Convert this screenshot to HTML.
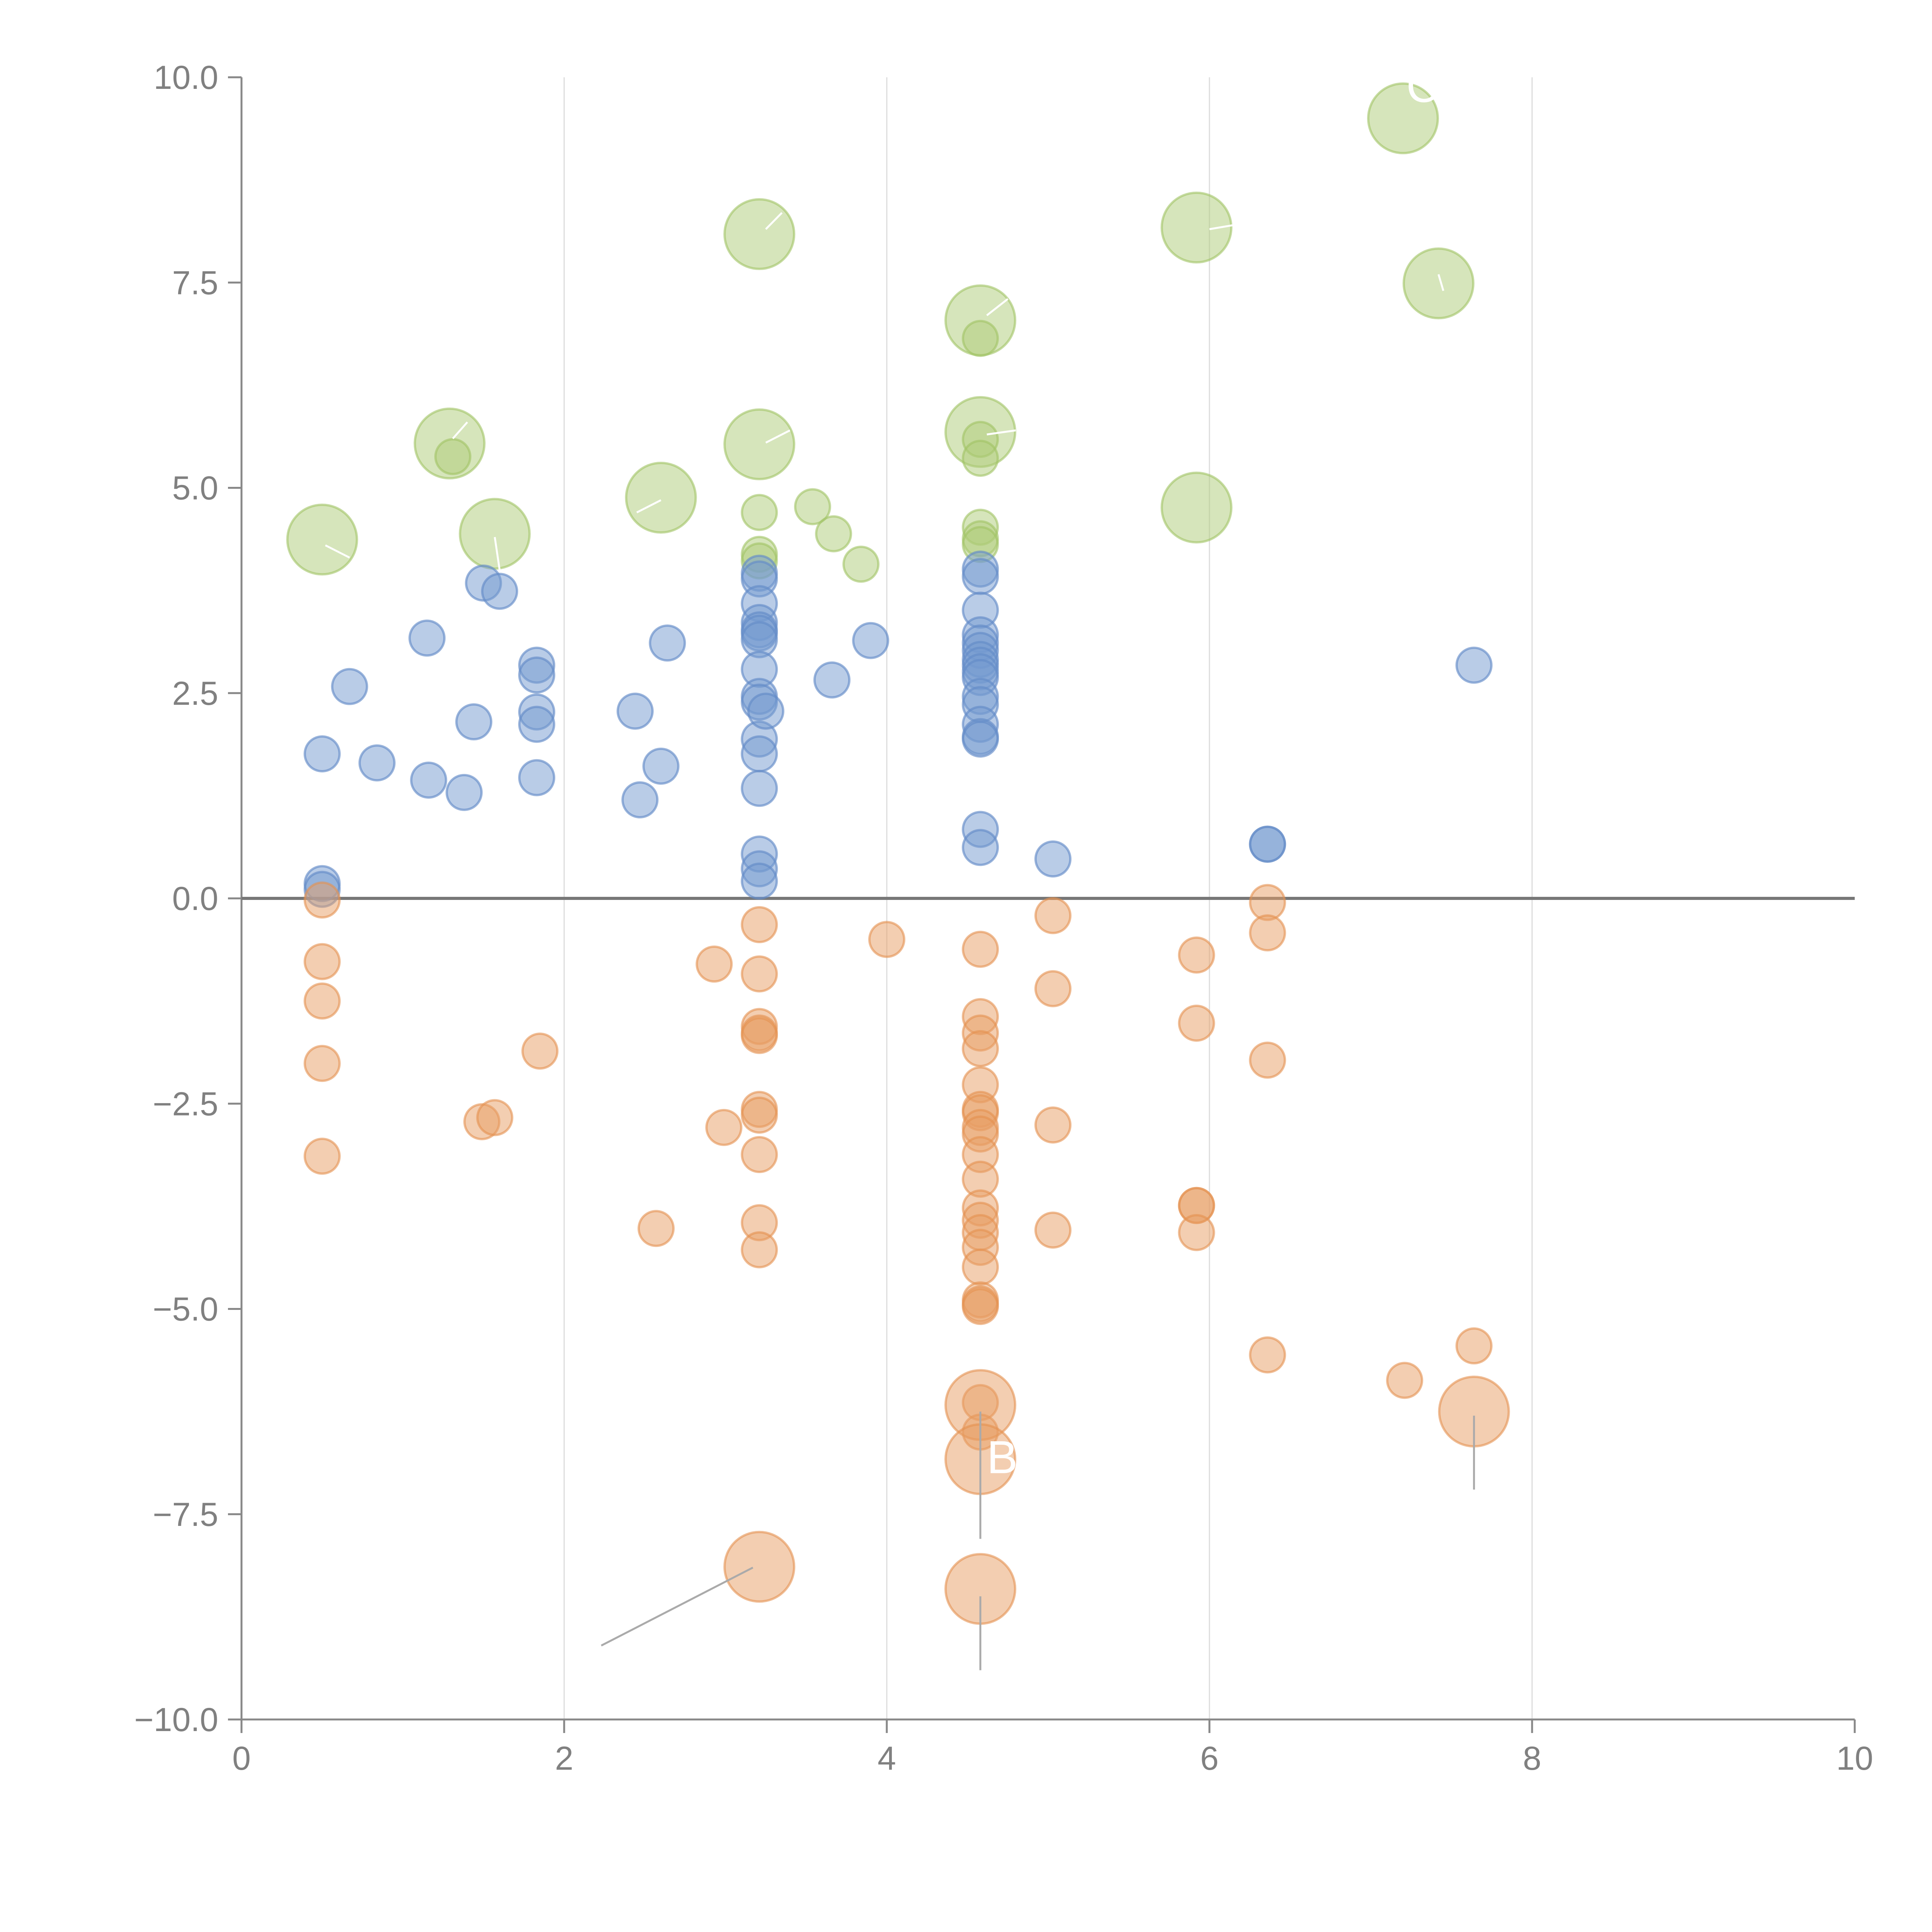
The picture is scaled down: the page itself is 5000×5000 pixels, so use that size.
<!DOCTYPE html>
<html><head><meta charset="utf-8">
<style>html,body{margin:0;padding:0;background:#fff}svg{display:block}</style>
</head><body>
<svg id="chart" width="5000" height="5000" viewBox="0 0 5000 5000" xmlns="http://www.w3.org/2000/svg" font-family="Liberation Sans, sans-serif">
<g id="grid"></g>
<g id="axes"></g>
<g id="marks"></g>
<g id="annot"></g>
</svg>
<script>
const xTicks=[0,2,4,6,8,10];
const yTicks=[-10,-7.5,-5,-2.5,0,2.5,5,7.5,10];
const yTickLabels=["−10.0","−7.5","−5.0","−2.5","0.0","2.5","5.0","7.5","10.0"];
const blueX=[0.5,0.5,0.5,0.67,0.84,1.15,1.16,1.38,1.44,1.5,1.6,1.83,1.83,1.83,1.83,1.83,2.44,2.47,2.6,2.64,
3.21,3.21,3.21,3.21,3.21,3.21,3.21,3.21,3.21,3.21,3.21,3.21,3.21,3.21,3.21,3.21,3.25,3.66,3.9,
4.58,4.58,4.58,4.58,4.58,4.58,4.58,4.58,4.58,4.58,4.58,4.58,4.58,4.58,4.58,4.58,4.58,5.03,6.36,6.36,7.64];
const blueY=[1.76,0.18,0.11,2.58,1.65,3.17,1.44,1.29,2.15,3.84,3.74,2.84,2.72,2.27,2.12,1.47,2.28,1.2,1.61,3.11,
3.96,3.89,3.59,3.36,3.27,3.23,3.15,2.79,2.46,2.39,1.94,1.76,1.34,0.54,0.36,0.21,2.28,2.66,3.14,
4.01,3.92,3.51,3.21,3.11,3.02,2.91,2.84,2.76,2.69,2.46,2.36,2.12,1.97,1.94,0.84,0.62,0.48,0.66,0.66,2.84];
const orangeX=[0.5,0.5,0.5,0.5,0.5,1.49,1.57,1.85,2.57,2.93,2.99,
3.21,3.21,3.21,3.21,3.21,3.21,3.21,3.21,3.21,3.21,4.0,
4.58,4.58,4.58,4.58,4.58,4.58,4.58,4.58,4.58,4.58,4.58,4.58,4.58,4.58,4.58,4.58,4.58,4.58,4.58,4.58,4.58,
5.03,5.03,5.03,5.03,5.92,5.92,5.92,5.92,5.92,6.36,6.36,6.36,6.36,7.21,7.64,
7.64,4.58,4.58,3.21,4.58];
const orangeY=[-0.02,-0.77,-1.25,-2.01,-3.14,-2.72,-2.67,-1.86,-4.02,-0.8,-2.79,
-0.32,-0.92,-1.56,-1.64,-1.67,-2.57,-2.64,-3.12,-3.95,-4.28,-0.5,
-0.62,-1.44,-1.64,-1.83,-2.27,-2.57,-2.61,-2.79,-2.87,-3.12,-3.42,-3.77,-3.92,-4.07,-4.25,-4.49,-4.89,-4.94,-4.97,-6.14,-6.5,
-0.21,-1.1,-2.76,-4.04,-0.69,-1.52,-3.74,-3.74,-4.07,-0.05,-0.42,-1.97,-5.56,-5.87,-5.45,
-6.25,-6.17,-6.83,-8.14,-8.41];
const orangeSize=[1,1,1,1,1,1,1,1,1,1,1,1,1,1,1,1,1,1,1,1,1,1,1,1,1,1,1,1,1,1,1,1,1,1,1,1,1,1,1,1,1,1,1,1,1,1,1,1,1,1,1,1,1,1,1,1,1,1,4,4,4,4,4];
const greenX=[0.5,1.29,1.57,2.6,3.21,3.21,4.58,4.58,5.92,5.92,7.2,7.42,
1.31,3.21,3.21,3.21,3.54,3.67,3.84,4.58,4.58,4.58,4.58,4.58,4.58];
const greenY=[4.37,5.54,4.44,4.88,8.09,5.53,7.04,5.68,8.17,4.76,9.5,7.49,
5.38,4.7,4.19,4.11,4.77,4.44,4.07,6.82,5.59,5.36,4.52,4.38,4.31];
const greenSize=[4,4,4,4,4,4,4,4,4,4,4,4,1,1,1,1,1,1,1,1,1,1,1,1,1];

const X0=625,X1=4800,Y0=4450,Y1=200;
const xs=v=>X0+(v-0)/(10-0)*(X1-X0);
const ys=v=>Y0-(v+10)/20*(Y0-Y1);
const rs=s=>45*Math.sqrt(s);
const NS="http://www.w3.org/2000/svg";
function mk(tag,attrs,parent){const e=document.createElementNS(NS,tag);for(const k in attrs)e.setAttribute(k,attrs[k]);parent.appendChild(e);return e;}
const grid=document.getElementById('grid'),axes=document.getElementById('axes'),marks=document.getElementById('marks'),annot=document.getElementById('annot');

xTicks.forEach(t=>{
  if(t>0&&t<10){const g=mk('line',{x1:xs(t),x2:xs(t),y1:Y1,y2:Y0,stroke:'#dcdcdc','stroke-width':3},grid);
  
  }
  const tk=mk('line',{x1:xs(t),x2:xs(t),y1:Y0,y2:Y0+35,stroke:'#888','stroke-width':5},axes);
  
  
  const tx=mk('text',{x:xs(t),y:Y0+130,'font-size':86,fill:'#808080','text-anchor':'middle'},axes);
  tx.textContent=String(t);
  
  
});
yTicks.forEach((t,i)=>{
  const tk=mk('line',{x1:X0-35,x2:X0,y1:ys(t),y2:ys(t),stroke:'#888','stroke-width':5},axes);
  
  
  const tx=mk('text',{x:X0-60,y:ys(t)+30,'font-size':86,fill:'#808080','text-anchor':'end'},axes);
  tx.textContent=yTickLabels[i];
  
  
});
const ya=mk('line',{x1:X0,x2:X0,y1:Y1,y2:Y0,stroke:'#888','stroke-width':5},axes);


const xa=mk('line',{x1:X0,x2:X1,y1:Y0,y2:Y0,stroke:'#888','stroke-width':5},axes);


const zl=mk('line',{x1:X0,x2:X1,y1:ys(0),y2:ys(0),stroke:'#777','stroke-width':8},axes);



function series(xsArr,ysArr,sz,fill,stroke,name){
  xsArr.forEach((x,i)=>{
    const c=mk('circle',{cx:xs(x),cy:ys(ysArr[i]),r:rs(sz?sz[i]:1),fill:fill,stroke:stroke,'stroke-width':6},marks);
    
    
  });
}
series(greenX,greenY,greenSize,'rgba(174,204,120,0.5)','rgba(160,195,100,0.6)','green-bubble');
series(blueX,blueY,null,'rgba(116,154,207,0.5)','rgba(100,140,200,0.65)','blue-bubble');
series(orangeX,orangeY,orangeSize,'rgba(232,158,100,0.5)','rgba(228,145,80,0.6)','orange-bubble');

// leader lines (annotation)
const leaders=[[2.23,-9.1,3.17,-8.15],[4.58,-6.25,4.58,-7.8],[4.58,-8.5,4.58,-9.4],[7.64,-6.3,7.64,-7.2]];
leaders.forEach(l=>{
  const e=mk('line',{x1:xs(l[0]),y1:ys(l[1]),x2:xs(l[2]),y2:ys(l[3]),stroke:'#aaa','stroke-width':5},annot);
  
  
});
const wl=[[0.52,4.3,0.67,4.15],[1.31,5.6,1.4,5.8],[3.25,8.15,3.35,8.35],[3.25,5.55,3.4,5.7],[4.62,7.1,4.75,7.3],[4.62,5.65,4.8,5.7],[6.0,8.15,6.15,8.2],[7.45,7.4,7.42,7.6],[1.6,4.0,1.57,4.4],[2.6,4.85,2.45,4.7]];
wl.forEach(l=>{
  const e=mk('line',{x1:xs(l[0]),y1:ys(l[1]),x2:xs(l[2]),y2:ys(l[3]),stroke:'#fff','stroke-width':5},annot);
  
  
});
const lb=[["B",4.62,-7.0],["C",7.22,9.7]];
lb.forEach(l=>{
  const t=mk('text',{x:xs(l[1]),y:ys(l[2]),'font-size':120,fill:'#fff'},annot);
  t.textContent=l[0];
  
  
});
</script>
</body></html>
